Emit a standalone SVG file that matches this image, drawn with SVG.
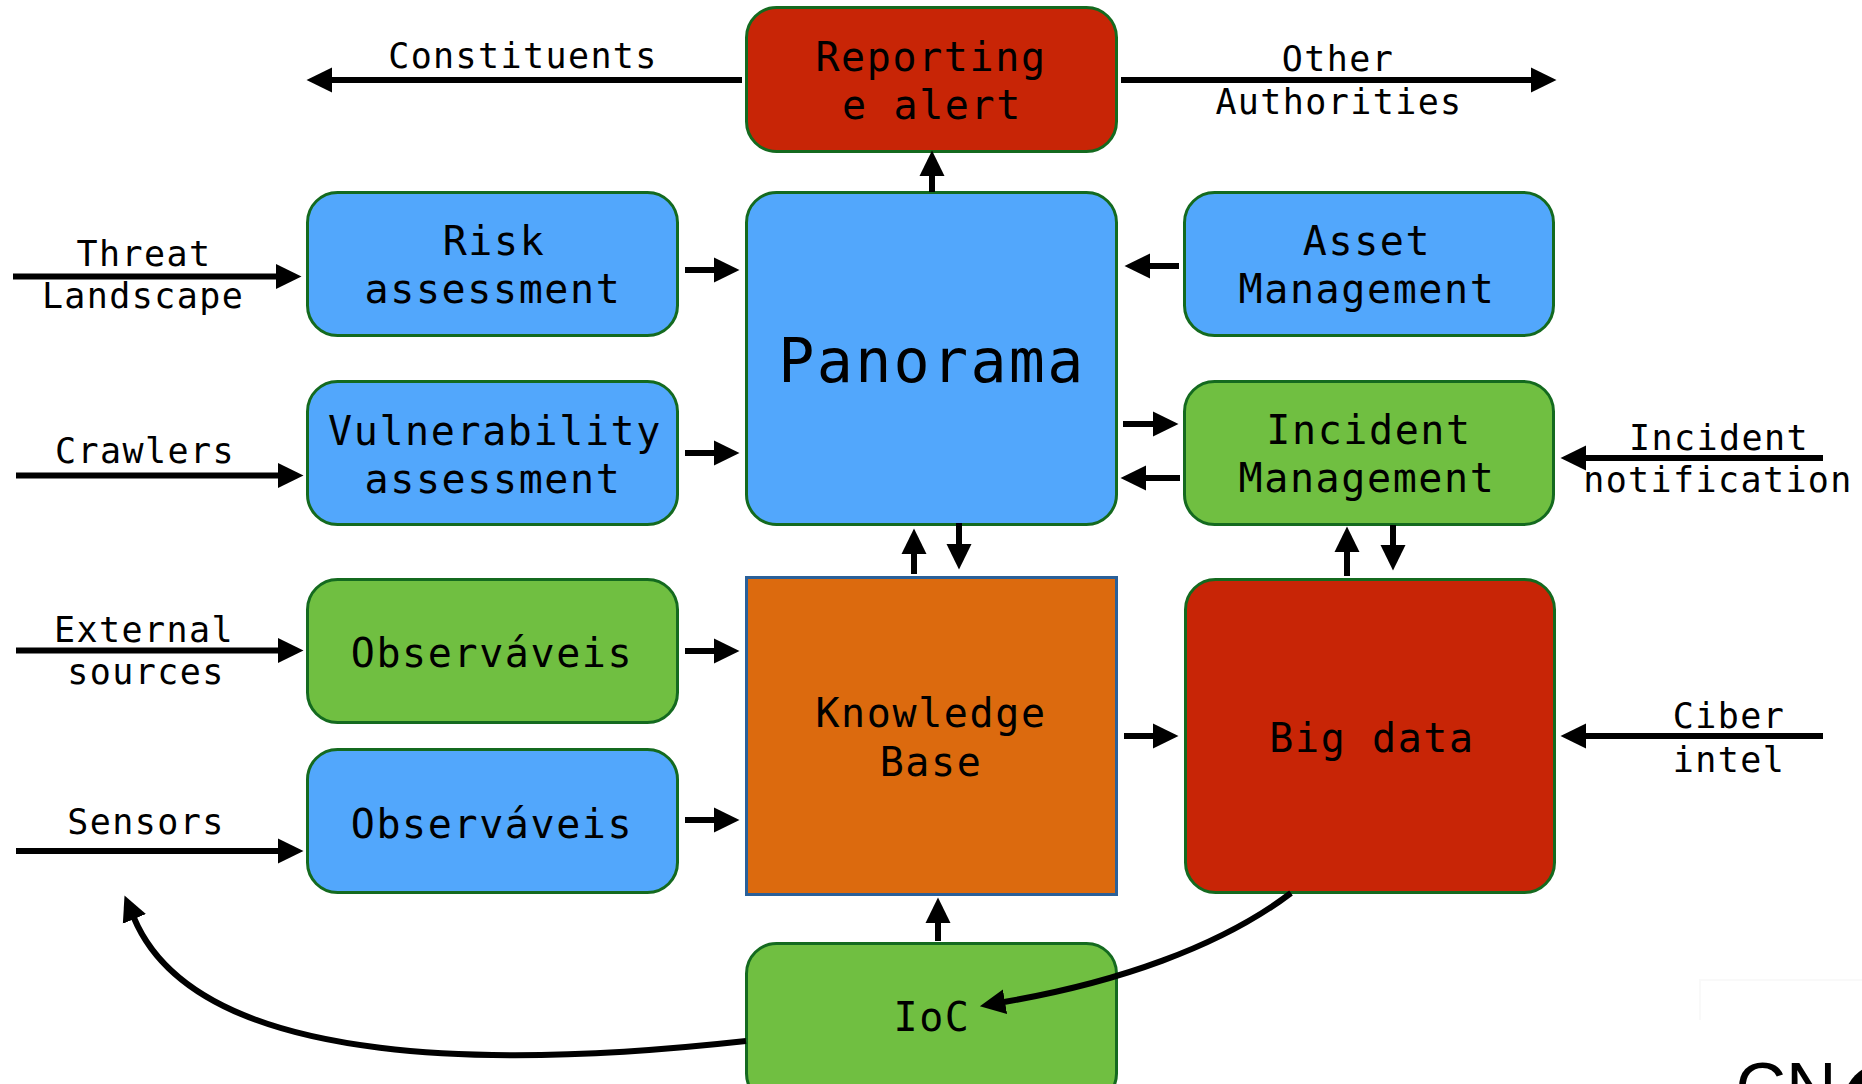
<svg xmlns="http://www.w3.org/2000/svg" width="1862" height="1084" viewBox="0 0 1862 1084">
<style>
text{font-family:"DejaVu Sans Mono","Liberation Mono",monospace;fill:#000;text-anchor:middle}
.b{font-size:40px;letter-spacing:1.6px}
.l{font-size:35px;letter-spacing:1.4px}
.p{font-size:60px;letter-spacing:2.3px}
.n{stroke:#146a1f;stroke-width:3}
.blue{fill:#52a7fc}.green{fill:#70bf41}.red{fill:#c82506}
.a{fill:none;stroke:#000;stroke-width:6;marker-end:url(#h)}
</style>
<defs><marker id="h" markerUnits="userSpaceOnUse" viewBox="0 0 26 26" markerWidth="26" markerHeight="26" refX="1" refY="13" orient="auto"><path d="M0 0.5L25.5 13L0 25.5Z" fill="#000"/></marker></defs>
<rect width="1862" height="1084" fill="#fff"/>
<path d="M1700 1020V980H1862" fill="none" stroke="#f9f9f9" stroke-width="2"/>
<g id="n-reporting"><rect class="n red" x="746.500" y="7.500" width="370" height="144" rx="30"/><text class="b" x="931" y="71">Reporting</text><text class="b" x="932" y="119">e alert</text></g>
<g id="n-risk"><rect class="n blue" x="307.500" y="192.500" width="370" height="143" rx="30"/><text class="b" x="494" y="255">Risk</text><text class="b" x="493" y="303">assessment</text></g>
<g id="n-panorama"><rect class="n blue" x="746.500" y="192.500" width="370" height="332" rx="30"/><text class="p" x="932" y="382">Panorama</text></g>
<g id="n-asset"><rect class="n blue" x="1184.500" y="192.500" width="369" height="143" rx="30"/><text class="b" x="1367" y="255">Asset</text><text class="b" x="1367" y="303">Management</text></g>
<g id="n-vuln"><rect class="n blue" x="307.500" y="381.500" width="370" height="143" rx="30"/><text class="b" x="495" y="445">Vulnerability</text><text class="b" x="493" y="493">assessment</text></g>
<g id="n-incident"><rect class="n green" x="1184.500" y="381.500" width="369" height="143" rx="30"/><text class="b" x="1369" y="444">Incident</text><text class="b" x="1367" y="492">Management</text></g>
<g id="n-obs1"><rect class="n green" x="307.500" y="579.500" width="370" height="143" rx="30"/><text class="b" x="492" y="667">Observáveis</text></g>
<g id="n-obs2"><rect class="n blue" x="307.500" y="749.500" width="370" height="143" rx="30"/><text class="b" x="492" y="838">Observáveis</text></g>
<g id="n-kb"><rect x="746.500" y="577.500" width="370" height="317" fill="#dc6a0e" stroke="#2a6099" stroke-width="3"/><text class="b" x="931" y="727">Knowledge</text><text class="b" x="931" y="776">Base</text></g>
<g id="n-bigdata"><rect class="n red" x="1185.500" y="579.500" width="369" height="313" rx="30"/><text class="b" x="1372" y="752">Big data</text></g>
<g id="n-ioc"><rect class="n green" x="746.500" y="943.500" width="370" height="160" rx="30"/><text class="b" x="932" y="1031">IoC</text></g>
<g id="connectors">
<path class="a" d="M742 80H331"/><path class="a" d="M1121 80H1532"/>
<path class="a" d="M932 192V175"/>
<path class="a" d="M685 270H715"/><path class="a" d="M1179 266H1149"/>
<path class="a" d="M685 453H715"/><path class="a" d="M1123 424H1154"/><path class="a" d="M1180 478H1145"/>
<path class="a" d="M1823 458H1585"/><path class="a" d="M1347 576V551"/><path class="a" d="M1393 525V546"/>
<path class="a" d="M1823 736H1585"/><path class="a" d="M914 574V553"/><path class="a" d="M959 523V545"/>
<path class="a" d="M685 651H715"/><path class="a" d="M685 820H715"/><path class="a" d="M1124 736H1154"/>
<path class="a" d="M938 941V922"/>
<path class="a" d="M13 276.500H277"/><path class="a" d="M16 475.500H279"/><path class="a" d="M16 650.500H279"/><path class="a" d="M16 851H279"/>
<path class="a" d="M1291 893C1220 947 1115 983 1004 1002"/>
<path class="a" d="M746 1041C520 1066 200 1075 134 918"/>
</g>
<text class="l" x="523" y="68">Constituents</text>
<text class="l" x="1338" y="71">Other</text><text class="l" x="1339" y="114">Authorities</text>
<text class="l" x="144" y="266">Threat</text><text class="l" x="143" y="308">Landscape</text>
<text class="l" x="145" y="463">Crawlers</text>
<text class="l" x="144" y="642">External</text><text class="l" x="146" y="684">sources</text>
<text class="l" x="146" y="834">Sensors</text>
<text class="l" x="1719" y="450">Incident</text><text class="l" x="1718" y="492">notification</text>
<text class="l" x="1729" y="728">Ciber</text><text class="l" x="1729" y="772">intel</text>
<g id="logo"><text x="1786" y="1112" style="font-family:'Liberation Sans',sans-serif;font-size:70px;text-anchor:middle">CN</text><circle cx="1882" cy="1102" r="38" fill="#000"/></g>
</svg>
